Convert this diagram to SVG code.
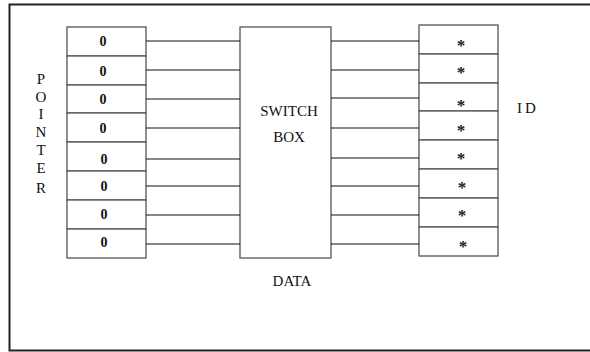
<svg xmlns="http://www.w3.org/2000/svg" width="590" height="352" viewBox="0 0 590 352">
<style>
.cell{fill:#fff;stroke:#555;stroke-width:1.3}
.conn line{stroke:#111;stroke-width:1}
.t{font-family:"Liberation Serif",serif;font-size:15px;fill:#111}
.z{font-family:"Liberation Serif",serif;font-size:14px;font-weight:bold;fill:#111;text-anchor:middle}
.s{font-family:"Liberation Serif",serif;font-size:17px;font-weight:bold;fill:#222;text-anchor:middle}
</style>
<rect width="590" height="352" fill="#fff"/>
<rect id="frame" x="9.5" y="4.5" width="600" height="346" fill="none" stroke="#222" stroke-width="2"/>
<g id="pointer">
<rect class="cell" x="67" y="27" width="79" height="29"/>
<rect class="cell" x="67" y="56" width="79" height="29"/>
<rect class="cell" x="67" y="85" width="79" height="28"/>
<rect class="cell" x="67" y="113" width="79" height="29"/>
<rect class="cell" x="67" y="142" width="79" height="29"/>
<rect class="cell" x="67" y="171" width="79" height="29"/>
<rect class="cell" x="67" y="200" width="79" height="29"/>
<rect class="cell" x="67" y="229" width="79" height="29"/>
<text class="z" x="103" y="46">0</text>
<text class="z" x="103" y="76">0</text>
<text class="z" x="103" y="104">0</text>
<text class="z" x="103" y="133">0</text>
<text class="z" x="104" y="164">0</text>
<text class="z" x="104" y="191">0</text>
<text class="z" x="104" y="219">0</text>
<text class="z" x="104" y="247">0</text>
</g>
<g id="pointer-label" class="t" text-anchor="middle">
<text x="41" y="84">P</text>
<text x="41" y="102">O</text>
<text x="41" y="119">I</text>
<text x="41" y="137">N</text>
<text x="41" y="155">T</text>
<text x="41" y="173">E</text>
<text x="41" y="193">R</text>
</g>
<g id="switchbox">
<rect class="cell" x="240" y="27" width="91" height="231"/>
<text class="t" x="289" y="116" text-anchor="middle">SWITCH</text>
<text class="t" x="289" y="142" text-anchor="middle">BOX</text>
</g>
<g id="id">
<rect class="cell" x="419" y="25" width="79" height="29"/>
<rect class="cell" x="419" y="54" width="79" height="29"/>
<rect class="cell" x="419" y="83" width="79" height="28"/>
<rect class="cell" x="419" y="111" width="79" height="29"/>
<rect class="cell" x="419" y="140" width="79" height="29"/>
<rect class="cell" x="419" y="169" width="79" height="29"/>
<rect class="cell" x="419" y="198" width="79" height="29"/>
<rect class="cell" x="419" y="227" width="79" height="29"/>
<text class="s" x="461" y="51">*</text>
<text class="s" x="461" y="78">*</text>
<text class="s" x="461" y="111">*</text>
<text class="s" x="461" y="136">*</text>
<text class="s" x="461" y="164">*</text>
<text class="s" x="462" y="193">*</text>
<text class="s" x="462" y="221">*</text>
<text class="s" x="463" y="252">*</text>
</g>
<text id="id-label" class="t" x="517" y="113" letter-spacing="3">ID</text>
<text id="data-label" class="t" x="292" y="286" text-anchor="middle">DATA</text>
<g id="connectors" class="conn">
<line x1="146" y1="41" x2="240" y2="41"/>
<line x1="146" y1="70" x2="240" y2="70"/>
<line x1="146" y1="99" x2="240" y2="99"/>
<line x1="146" y1="128" x2="240" y2="128"/>
<line x1="146" y1="159" x2="240" y2="159"/>
<line x1="146" y1="186" x2="240" y2="186"/>
<line x1="146" y1="215" x2="240" y2="215"/>
<line x1="146" y1="244" x2="240" y2="244"/>
<line x1="331" y1="41" x2="419" y2="41"/>
<line x1="331" y1="70" x2="419" y2="70"/>
<line x1="331" y1="98" x2="419" y2="98"/>
<line x1="331" y1="128" x2="419" y2="128"/>
<line x1="331" y1="158" x2="419" y2="158"/>
<line x1="331" y1="186" x2="419" y2="186"/>
<line x1="331" y1="215" x2="419" y2="215"/>
<line x1="331" y1="244" x2="419" y2="244"/>
</g>
</svg>
